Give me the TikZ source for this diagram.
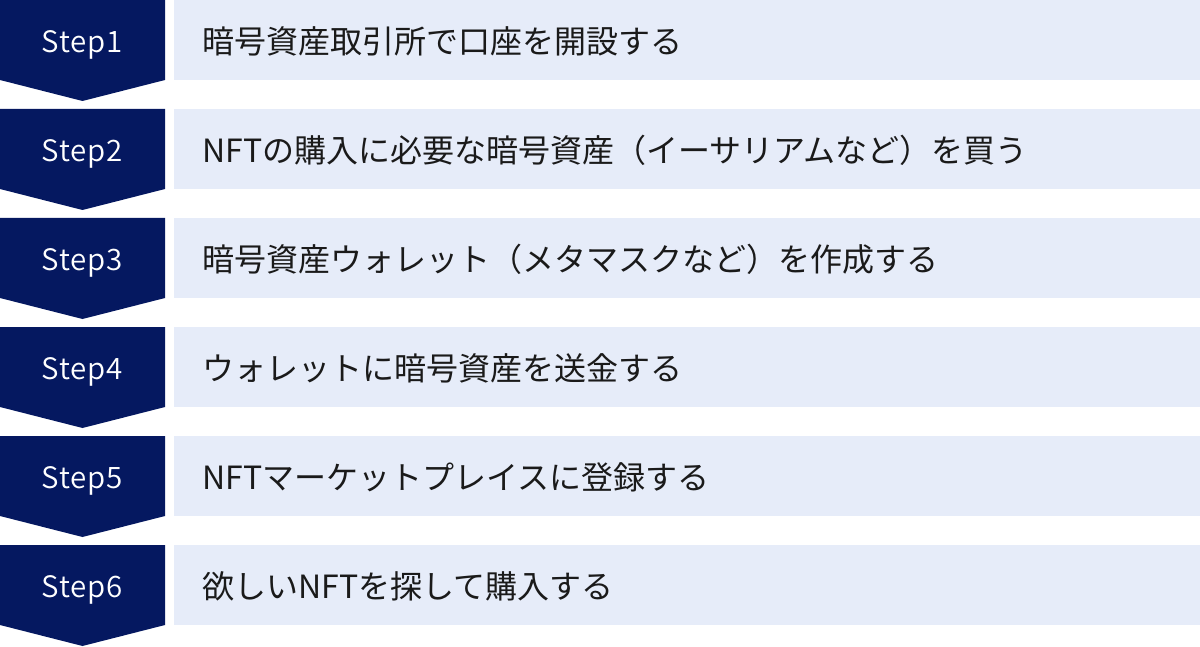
\documentclass[tikz,border=0pt]{standalone}
\usepackage{fontspec}
\setmainfont{Noto Sans CJK JP}
\IfFontExistsTF{Noto Sans CJK JP DemiLight}
  {\newfontfamily\steplatin[LetterSpace=2.5]{Noto Sans CJK JP DemiLight}}
  {\newfontfamily\steplatin[LetterSpace=2.5]{Noto Sans CJK JP}}
\definecolor{stepnavy}{RGB}{5,24,96}
\definecolor{rowblue}{RGB}{230,236,249}
\definecolor{textgray}{RGB}{26,26,26}
\tikzset{
  chevron/.style={fill=stepnavy},
  rowbox/.style={fill=rowblue},
  steplabel/.style={text=white, anchor=base, font=\steplatin\fontsize{29.5}{34}\selectfont, inner sep=0pt},
  rowtext/.style={text=textgray, anchor=west, font=\fontsize{32}{36}\selectfont, inner sep=0pt}
}
\begin{document}
\begin{tikzpicture}[x=1pt, y=-1pt]
    \useasboundingbox (0,0) rectangle (1200,647);
    \begin{scope}
    % left chevrons
    \fill[chevron] (0,0) -- (165,0) -- (165,80) -- (82.5,101) -- (0,80) -- cycle;
    \fill[chevron] (0,109) -- (165,109) -- (165,189) -- (82.5,210) -- (0,189) -- cycle;
    \fill[chevron] (0,218) -- (165,218) -- (165,298) -- (82.5,319) -- (0,298) -- cycle;
    \fill[chevron] (0,327) -- (165,327) -- (165,407) -- (82.5,428) -- (0,407) -- cycle;
    \fill[chevron] (0,436) -- (165,436) -- (165,516) -- (82.5,537) -- (0,516) -- cycle;
    \fill[chevron] (0,545) -- (165,545) -- (165,625) -- (82.5,646) -- (0,625) -- cycle;

    % right boxes
    \fill[rowbox] (174,0) rectangle (1200,80);
    \fill[rowbox] (174,109) rectangle (1200,189);
    \fill[rowbox] (174,218) rectangle (1200,298);
    \fill[rowbox] (174,327) rectangle (1200,407);
    \fill[rowbox] (174,436) rectangle (1200,516);
    \fill[rowbox] (174,545) rectangle (1200,625);

    % step labels
    \node[steplabel] (step1) at (82,52.3) {Step1};
    \node[steplabel] (step2) at (82,161.3) {Step2};
    \node[steplabel] (step3) at (82,270.3) {Step3};
    \node[steplabel] (step4) at (82,379.3) {Step4};
    \node[steplabel] (step5) at (82,488.3) {Step5};
    \node[steplabel] (step6) at (82,597.3) {Step6};

    % row texts
    \node[rowtext] (text1) at (202,41) {暗号資産取引所で口座を開設する};
    \node[rowtext] (text2) at (202,150) {NFTの購入に必要な暗号資産（イーサリアムなど）を買う};
    \node[rowtext] (text3) at (202,259) {暗号資産ウォレット（メタマスクなど）を作成する};
    \node[rowtext] (text4) at (202,368) {ウォレットに暗号資産を送金する};
    \node[rowtext] (text5) at (202,477) {NFTマーケットプレイスに登録する};
    \node[rowtext] (text6) at (202,586) {欲しいNFTを探して購入する};
    \end{scope}
\end{tikzpicture}
\end{document}
